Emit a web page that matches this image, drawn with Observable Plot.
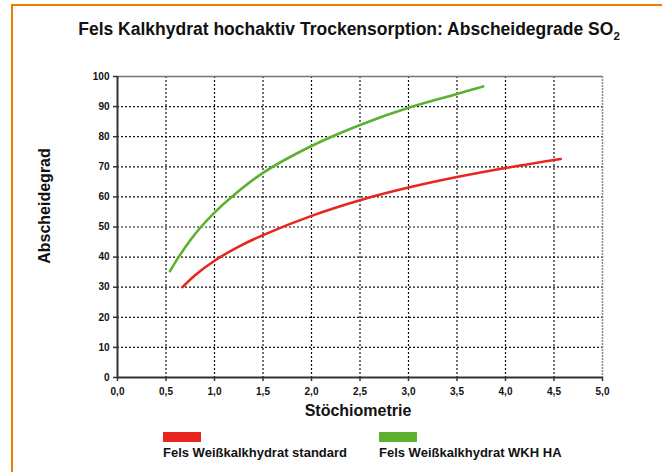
<!DOCTYPE html>
<html>
<head>
<meta charset="utf-8">
<script src="https://cdn.jsdelivr.net/npm/d3@7"></script>
<script src="https://cdn.jsdelivr.net/npm/@observablehq/plot@0.6"></script>
<style>
  html, body { margin: 0; padding: 0; background: #fff; }
  body { font-family: "Liberation Sans", Arial, sans-serif; }
  #wrap { position: relative; width: 662px; height: 472px; overflow: hidden; background: #fff; }
  #wrap svg { position: absolute; left: 0; top: 0; }
  .abs { position: absolute; white-space: nowrap; font-weight: bold; color: #111; }
  .bar { position: absolute; background: #ef7d00; }
</style>
</head>
<body>
<div id="wrap"></div>
<script>
// Series data
const stoichStandard = [0.67, 0.8, 1.0, 1.25, 1.5, 2.0, 2.5, 3.0, 3.5, 4.0, 4.57];
const abscheidStandard = [30.0, 34.0, 38.8, 43.5, 47.3, 53.7, 58.9, 63.1, 66.6, 69.6, 72.6];
const stoichWKH = [0.54, 0.63, 0.75, 0.86, 1.0, 1.17, 1.5, 2.0, 2.5, 3.0, 3.5, 3.77];
const abscheidWKH = [35.3, 40.0, 45.6, 50.0, 54.8, 59.8, 68.0, 76.9, 83.9, 89.6, 94.2, 96.7];

const seriesNames = ["Fels Weißkalkhydrat standard", "Fels Weißkalkhydrat WKH HA"];
const seriesColors = ["#e8261f", "#5cb130"];

const xTicks = [0, 0.5, 1, 1.5, 2, 2.5, 3, 3.5, 4, 4.5, 5];
const yTicks = [0, 10, 20, 30, 40, 50, 60, 70, 80, 90, 100];

const titleText = "Fels Kalkhydrat hochaktiv Trockensorption: Abscheidegrade SO";
const titleSub = "2";
const xLabel = "Stöchiometrie";
const yLabel = "Abscheidegrad";

const rows = [
  ...stoichStandard.map((s, i) => ({x: s, y: abscheidStandard[i], series: seriesNames[0]})),
  ...stoichWKH.map((s, i) => ({x: s, y: abscheidWKH[i], series: seriesNames[1]}))
];

const innerX = xTicks.filter(d => d > 0 && d < 5);
const innerY = yTicks.filter(d => d > 0 && d < 100);

const chart = Plot.plot({
  width: 662,
  height: 472,
  marginLeft: 117,
  marginRight: 60,
  marginTop: 76,
  marginBottom: 95,
  style: {fontFamily: "'Liberation Sans', Arial, sans-serif", background: "transparent", overflow: "visible"},
  x: {domain: [0, 5], ticks: xTicks, tickFormat: d => d.toFixed(1).replace(".", ","), label: null},
  y: {domain: [0, 100], ticks: yTicks, label: null},
  color: {domain: seriesNames, range: seriesColors},
  marks: [
    Plot.ruleX(innerX, {stroke: "#111", strokeDasharray: "2,2", strokeWidth: 1.2}),
    Plot.ruleY(innerY, {stroke: "#111", strokeDasharray: "2,2", strokeWidth: 1.2}),
    Plot.ruleX([5], {stroke: "#888", strokeDasharray: "2,1", strokeWidth: 1.5}),
    Plot.ruleY([100], {stroke: "#777", strokeWidth: 1.5}),
    Plot.axisX({ticks: xTicks, tickFormat: d => d.toFixed(1).replace(".", ","), tickSize: 4, tickPadding: 6, fontSize: 10, fontWeight: "bold", fill: "#111", stroke: "#333", strokeWidth: 1.5, label: null}),
    Plot.axisY({ticks: yTicks, tickSize: 4, tickPadding: 4, fontSize: 10, fontWeight: "bold", fill: "#111", stroke: "#333", strokeWidth: 1.5, label: null}),
    Plot.ruleX([0], {stroke: "#333", strokeWidth: 2}),
    Plot.ruleY([0], {stroke: "#333", strokeWidth: 2}),
    Plot.line(rows, {x: "x", y: "y", z: "series", stroke: "series", strokeWidth: 2.6, curve: "catmull-rom"})
  ]
});

const wrap = document.getElementById("wrap");
wrap.appendChild(chart);

function addDiv(cls, css, html) {
  const d = document.createElement("div");
  d.className = cls;
  d.setAttribute("style", css);
  if (html != null) d.innerHTML = html;
  wrap.appendChild(d);
  return d;
}
// orange frame
addDiv("bar", "left:11px; top:4px; width:651px; height:2px;");
addDiv("bar", "left:11px; top:4px; width:2px; height:468px;");

// title
addDiv("abs", "left:0; width:698px; top:19px; text-align:center; font-size:17.5px; line-height:20px;",
  titleText + "<span style='font-size:11.5px; position:relative; top:5px;'>" + titleSub + "</span>");

// axis labels
addDiv("abs", "left:358px; top:411px; transform:translate(-50%,-50%); font-size:16px;", xLabel);
addDiv("abs", "left:45px; top:206px; transform:translate(-50%,-50%) rotate(-90deg); font-size:16px;", yLabel);

// legend
const legendX = [163, 379];
seriesNames.forEach((name, i) => {
  addDiv("abs", `left:${legendX[i]}px; top:432px; width:38px; height:10px; background:${seriesColors[i]};`);
  addDiv("abs", `left:${legendX[i]}px; top:445px; font-size:13px; line-height:16px;`, name);
});
</script>
</body>
</html>
